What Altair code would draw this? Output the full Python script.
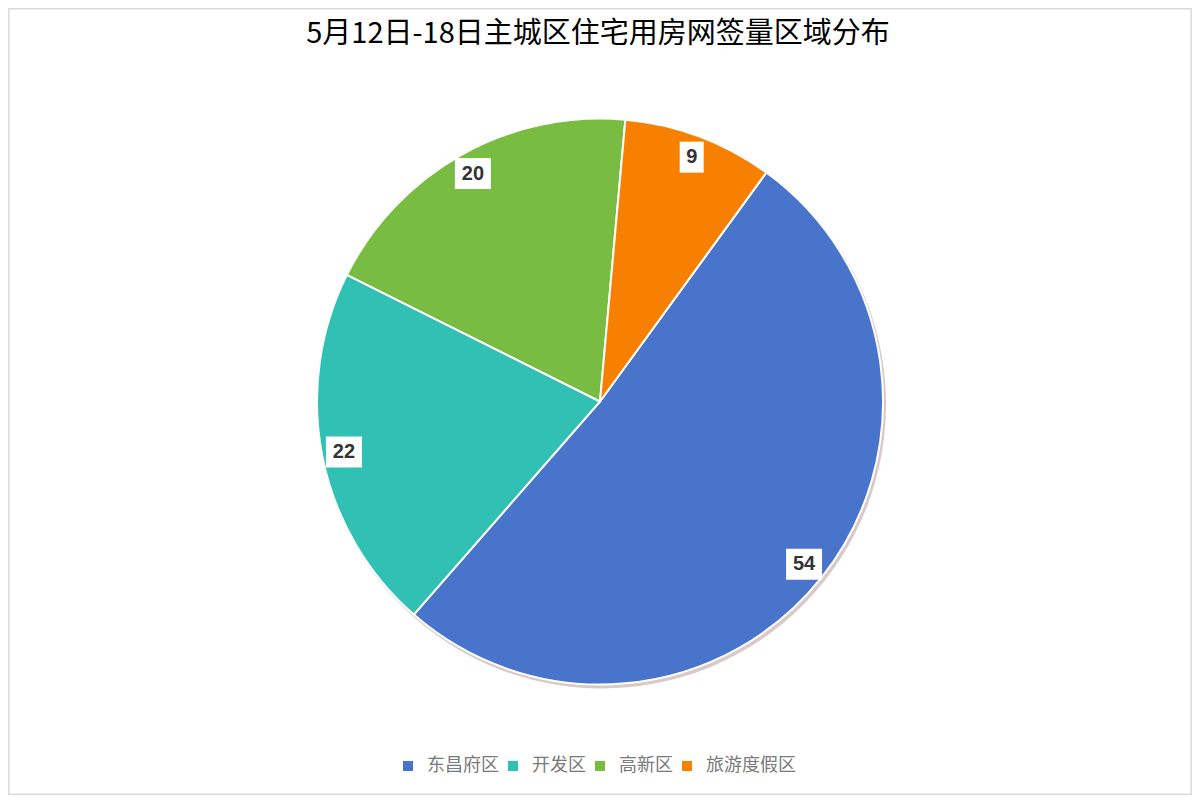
import math
import altair as alt
import pandas as pd

# ---- data ----
title_text = "5月12日-18日主城区住宅用房网签量区域分布"
categories = ["东昌府区", "开发区", "高新区", "旅游度假区"]
values = [54, 22, 20, 9]
colors = ["#4874CB", "#30C0B4", "#78BD42", "#F88000"]

W, H = 1184, 787
START = math.radians(36)
R = 283
LABEL_R = 261

df = pd.DataFrame({"category": categories, "value": values, "idx": list(range(len(values)))})

theta = alt.Theta("value:Q", stack=True,
                  scale=alt.Scale(range=[START, START + 2 * math.pi]))
color = alt.Color("category:N", sort=categories,
                  scale=alt.Scale(domain=categories, range=colors),
                  legend=alt.Legend(orient="none", legendX=391, legendY=749,
                                    direction="horizontal", title=None,
                                    symbolType="square", symbolSize=100,
                                    symbolStrokeWidth=0,
                                    labelFontSize=18, labelColor="#7a7a7a",
                                    labelFont="Noto Sans CJK SC",
                                    labelOffset=10, columnPadding=5, padding=0))

base = alt.Chart(df)

shadow = base.mark_arc(outerRadius=R + 1, xOffset=2, yOffset=3,
                       color="#a07878", opacity=0.4).encode(
    theta=theta, order=alt.Order("idx:Q"))

arc = base.mark_arc(outerRadius=R, stroke="white", strokeWidth=2).encode(
    theta=theta, color=color, order=alt.Order("idx:Q"))

xs = alt.Scale(domain=[-W / 2, W / 2], nice=False, zero=False)
ys = alt.Scale(domain=[-H / 2, H / 2], nice=False, zero=False)

lab = (base
       .transform_window(cum="sum(value)", sort=[alt.SortField("idx")], frame=[None, 0])
       .transform_joinaggregate(total="sum(value)")
       .transform_calculate(mid=f"{START} + 2*PI*(datum.cum - datum.value/2)/datum.total")
       .transform_calculate(lx=f"{LABEL_R}*sin(datum.mid)",
                            ly=f"{LABEL_R}*cos(datum.mid)",
                            hw="6*length(toString(datum.value)) + 6")
       .transform_calculate(x1="datum.lx - datum.hw", x2="datum.lx + datum.hw",
                            y1="datum.ly - 15.5", y2="datum.ly + 15.5"))

box = lab.mark_rect(color="white").encode(
    x=alt.X("x1:Q", scale=xs, axis=None), x2="x2:Q",
    y=alt.Y("y1:Q", scale=ys, axis=None), y2="y2:Q")

txt = lab.mark_text(fontSize=20, fontWeight="bold", color="#333333",
                    font="Liberation Sans", baseline="middle").encode(
    x=alt.X("lx:Q", scale=xs, axis=None),
    y=alt.Y("ly:Q", scale=ys, axis=None),
    text="value:Q")

title = alt.Chart(pd.DataFrame({"t": [title_text]})).mark_text(
    fontSize=29, font="Noto Sans CJK SC", color="#000000", baseline="middle").encode(
    text="t:N", x=alt.value(W / 2 - 2), y=alt.value(26))

chart = (alt.layer(shadow, arc, box, txt, title)
         .properties(width=W, height=H, autosize=alt.AutoSizeParams(type="none"),
                     padding=0, background="white")
         .configure_view(stroke="#d9d9d9", strokeWidth=3))

chart.save("out.html", embed_options={"renderer": "svg", "actions": False})
